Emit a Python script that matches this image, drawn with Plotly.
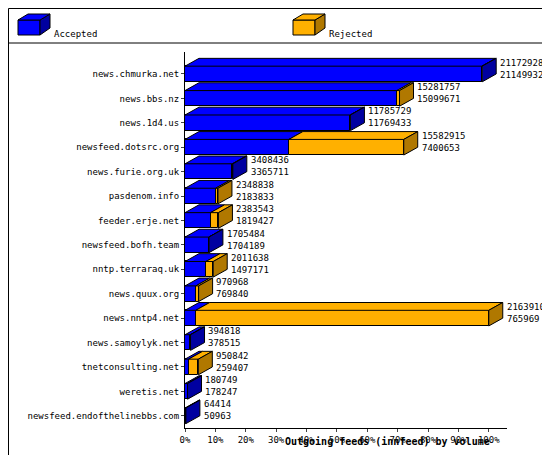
import plotly.graph_objects as go

feeds = ["news.chmurka.net", "news.bbs.nz", "news.1d4.us", "newsfeed.dotsrc.org",
         "news.furie.org.uk", "pasdenom.info", "feeder.erje.net", "newsfeed.bofh.team",
         "nntp.terraraq.uk", "news.quux.org", "news.nntp4.net", "news.samoylyk.net",
         "tnetconsulting.net", "weretis.net", "newsfeed.endofthelinebbs.com"]
offered = [21172928, 15281757, 11785729, 15582915, 3408436, 2348838, 2383543, 1705484,
           2011638, 970968, 21639100, 394818, 950842, 180749, 64414]
accepted = [21149932, 15099671, 11769433, 7400653, 3365711, 2183833, 1819427, 1704189,
            1497171, 769840, 765969, 378515, 259407, 178247, 50963]
pct_ticks = [0, 0.1, 0.2, 0.3, 0.4, 0.5, 0.6, 0.7, 0.8, 0.9, 1.0]

BLUE, BLUE_D = "#0000ff", "#0000a0"
ORANGE, ORANGE_D = "#ffb000", "#b07800"
FONT = "DejaVu Sans Mono"

mx = max(offered)
acc = [a / mx for a in accepted]
tot = [o / mx for o in offered]
rej = [t - a for t, a in zip(tot, acc)]
idx = list(range(len(feeds)))

W = 0.64        # bar thickness (category units)
DX, DY = 0.046, 0.32   # 3D depth
PW, PH = 322, 376      # plot area in px

fig = go.Figure()
fig.add_trace(go.Bar(y=idx, x=acc, orientation="h", width=W, marker_color=BLUE,
                     marker_line=dict(color="black", width=1), showlegend=False))
fig.add_trace(go.Bar(y=idx, x=rej, base=acc, orientation="h", width=W, marker_color=ORANGE,
                     marker_line=dict(color="black", width=1), showlegend=False))

shapes = []
def poly(pts, color, ref="x"):
    path = "M " + " L ".join(f"{x},{y}" for x, y in pts) + " Z"
    shapes.append(dict(type="path", path=path, xref=ref, yref=ref.replace("x", "y"),
                       fillcolor=color, line=dict(color="black", width=1)))

for i in idx:
    yt, yb = i - W / 2, i + W / 2
    a, t = acc[i], tot[i]
    if a > 0:
        poly([(0, yt), (DX, yt - DY), (a + DX, yt - DY), (a, yt)], BLUE)
    if t > a:
        poly([(a, yt), (a + DX, yt - DY), (t + DX, yt - DY), (t, yt)], ORANGE)
    side = ORANGE_D if t - a > 0.002 else BLUE_D
    poly([(t, yt), (t + DX, yt - DY), (t + DX, yb - DY), (t, yb)], side)
    fig.add_annotation(x=t + DX + 0.006, y=i - 0.22, xref="x", yref="y",
                       text=f"{offered[i]}<br>{accepted[i]}", showarrow=False,
                       xanchor="left", yanchor="middle", align="left",
                       font=dict(family=FONT, size=9, color="black"))

# pixel -> paper helpers
def px(x): return (x - 177) / PW
def py(y): return (420 - y) / PH

for x0, c, cd, label in [(10, BLUE, BLUE_D, "Accepted"), (285, ORANGE, ORANGE_D, "Rejected")]:
    poly([(px(x0), py(27)), (px(x0 + 22), py(27)), (px(x0 + 22), py(12)), (px(x0), py(12))], c, "paper")
    poly([(px(x0 + 22), py(27)), (px(x0 + 32), py(20)), (px(x0 + 32), py(6)), (px(x0 + 22), py(12))], cd, "paper")
    poly([(px(x0), py(12)), (px(x0 + 10), py(6)), (px(x0 + 32), py(6)), (px(x0 + 22), py(12))], c, "paper")
    fig.add_annotation(x=px(x0 + 34), y=py(19), xref="paper", yref="paper",
                       text=label, showarrow=False, xanchor="left",
                       font=dict(family=FONT, size=9, color="black"))
shapes.append(dict(type="line", xref="paper", yref="paper", x0=px(0), x1=px(550),
                   y0=py(35), y1=py(35), line=dict(color="black", width=1)))
shapes.append(dict(type="rect", xref="paper", yref="paper", x0=px(0.5), x1=px(549.5),
                   y0=py(454.5), y1=py(0.5), line=dict(color="black", width=1)))
fig.add_annotation(x=px(275), y=py(441), xref="paper", yref="paper",
                   text="<b>Outgoing feeds (innfeed) by volume</b>", showarrow=False,
                   font=dict(family=FONT, size=10, color="black"))

fig.update_layout(
    width=550, height=455, margin=dict(l=177, r=51, t=44, b=35),
    paper_bgcolor="white", plot_bgcolor="white", barmode="overlay",
    shapes=shapes, bargap=0,
    font=dict(family=FONT, size=9, color="black"),
)
fig.update_yaxes(tickvals=idx, ticktext=feeds, range=[14.5, -0.9], showgrid=False,
                 showline=True, linecolor="black", ticks="outside", ticklen=3,
                 zeroline=False, automargin=False)
fig.update_xaxes(range=[0, 1.06], tickvals=pct_ticks, ticktext=[f"{int(p*100)}%" for p in pct_ticks],
                 showgrid=False, showline=True, linecolor="black", ticks="outside", ticklen=3,
                 zeroline=False, automargin=False)

fig.write_html("out.html")
